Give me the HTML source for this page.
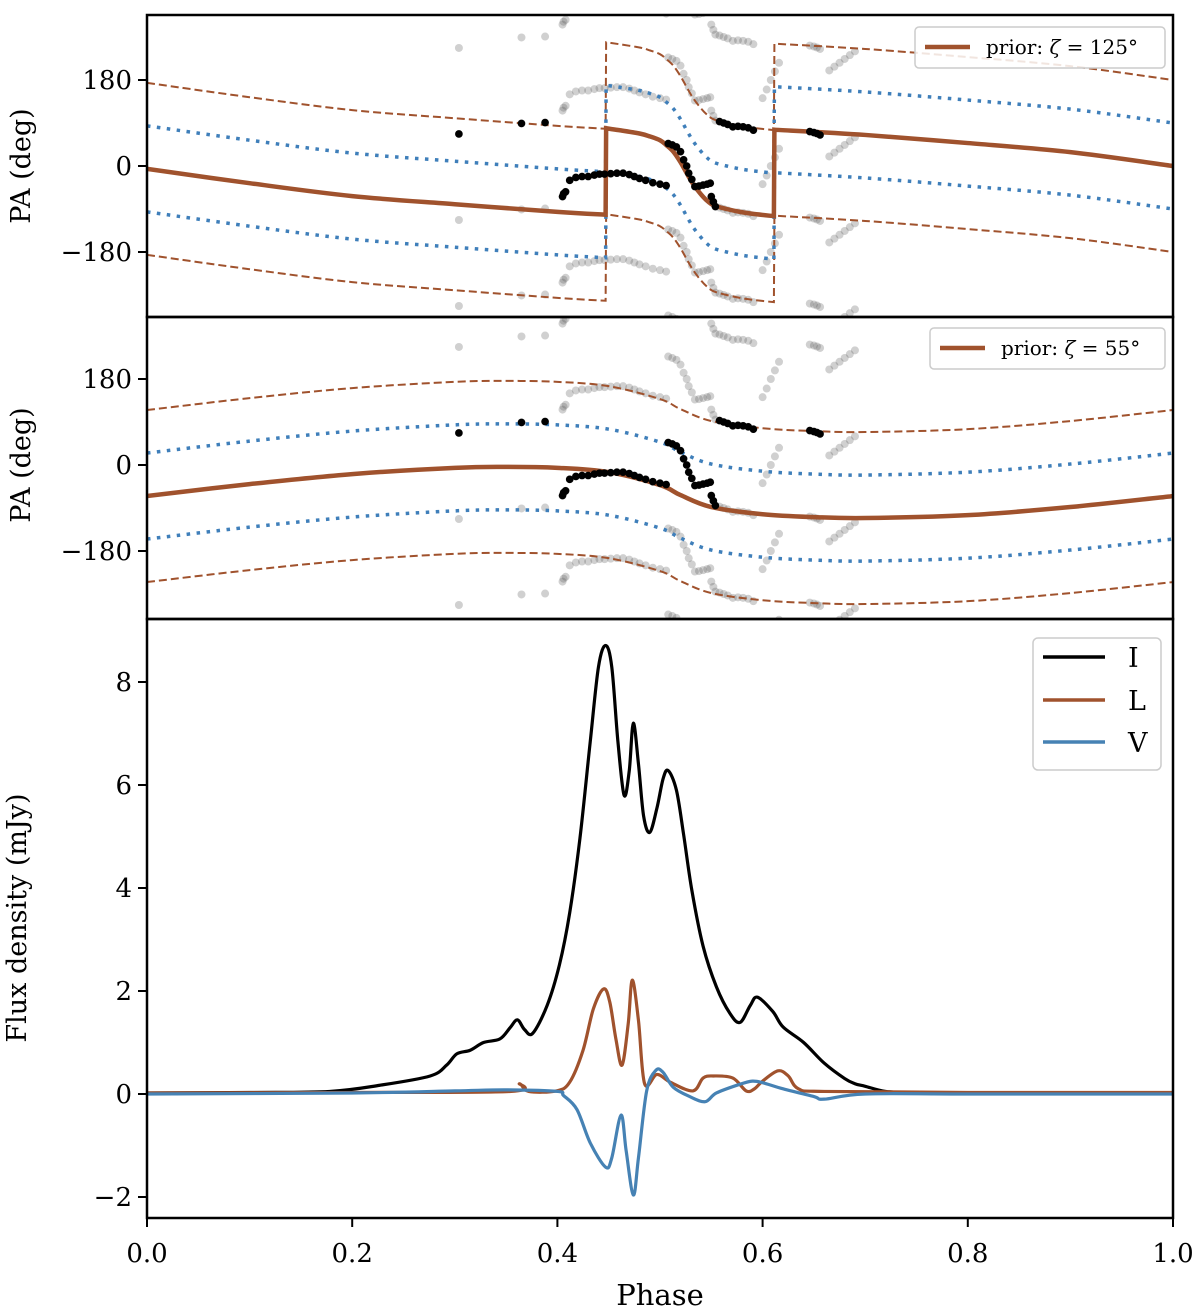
<!DOCTYPE html>
<html><head><meta charset="utf-8"><style>
html,body{margin:0;padding:0;background:#fff}
svg{display:block;font-family:"DejaVu Serif","Liberation Serif",serif}
</style></head><body>
<svg id="chart" width="1200" height="1313" viewBox="0 0 1200 1313" xmlns="http://www.w3.org/2000/svg">
<defs>
<clipPath id="c1"><rect x="147" y="15" width="1026" height="302"/></clipPath>
<clipPath id="c2"><rect x="147" y="317" width="1026" height="302"/></clipPath>
<clipPath id="c3"><rect x="147" y="619" width="1026" height="599"/></clipPath>
</defs>
<g id="g1" clip-path="url(#c1)"></g>
<g id="g2" clip-path="url(#c2)"></g>
<g id="g3" clip-path="url(#c3)"></g>
<g id="axes"></g>
<text x="30" y="166" font-size="27" text-anchor="middle" transform="rotate(-90 30 166)">PA (deg)</text>
<text x="30" y="465" font-size="27" text-anchor="middle" transform="rotate(-90 30 465)">PA (deg)</text>
<text x="26" y="918" font-size="27" text-anchor="middle" transform="rotate(-90 26 918)">Flux density (mJy)</text>
<text x="660" y="1305" font-size="29" text-anchor="middle">Phase</text>
<g>
<rect x="915" y="27" width="250" height="41" rx="4" fill="#fff" fill-opacity="0.85" stroke="#ccc" stroke-width="1.5"/>
<line x1="925" y1="47" x2="970" y2="47" stroke="#a0522d" stroke-width="4.5"/>
<text x="986" y="54" font-size="20">prior: <tspan font-style="italic">ζ</tspan> = 125°</text>
</g>
<g>
<rect x="930" y="328" width="235" height="41" rx="4" fill="#fff" fill-opacity="0.85" stroke="#ccc" stroke-width="1.5"/>
<line x1="940" y1="348" x2="985" y2="348" stroke="#a0522d" stroke-width="4.5"/>
<text x="1001" y="355" font-size="20">prior: <tspan font-style="italic">ζ</tspan> = 55°</text>
</g>
<g>
<rect x="1033" y="638" width="128" height="132" rx="5" fill="#fff" fill-opacity="0.85" stroke="#ccc" stroke-width="1.5"/>
<line x1="1043" y1="657" x2="1105" y2="657" stroke="#000" stroke-width="3.5"/>
<text x="1128" y="667" font-size="27">I</text>
<line x1="1043" y1="700" x2="1105" y2="700" stroke="#a0522d" stroke-width="3.5"/>
<text x="1128" y="710" font-size="27">L</text>
<line x1="1043" y1="742" x2="1105" y2="742" stroke="#4682b4" stroke-width="3.5"/>
<text x="1128" y="752" font-size="27">V</text>
</g>
</svg>
<script>
// ---- data ----
const rvm1Phase=[0,0.1,0.2,0.3,0.4,0.447,0.4475,0.46,0.48,0.49,0.5,0.506,0.513,0.52,0.526,0.532,0.539,0.545,0.552,0.565,0.578,0.59,0.611,0.6115,0.7,0.8,0.9,1.0];
const rvm1PA=[-6,-36,-63,-80,-96,-102,79,75,68,62,54,44,30,8,-15,-37,-57,-71,-82,-90,-96,-100,-105,76,65,48,29,0];
const rvm2Phase=[0,0.1,0.2,0.3,0.35,0.4,0.45,0.5,0.52,0.55,0.6,0.65,0.7,0.8,0.9,1.0];
const rvm2PA=[-65,-40,-19,-6,-4,-6,-15,-42,-63,-88,-103,-109,-111,-105,-88,-65];
const paPhase=[0.304,0.365,0.388,0.405,0.406,0.408,0.412,0.418,0.424,0.430,0.436,0.441,0.446,0.452,0.458,0.464,0.470,0.475,0.480,0.486,0.493,0.500,0.506,0.508,0.512,0.516,0.520,0.523,0.526,0.528,0.531,0.534,0.538,0.542,0.546,0.549,0.550,0.552,0.554,0.558,0.562,0.566,0.571,0.576,0.581,0.586,0.591,0.646,0.650,0.653,0.656];
const paValue=[67,89,91,-64,-58,-54,-30,-24,-22,-22,-19,-17,-17,-16,-15,-15,-18,-22,-26,-30,-35,-38,-41,47,44,40,30,13,0,-15,-28,-43,-42,-40,-38,-36,-64,-75,-85,93,90,87,82,83,82,80,75,72,70,68,65];
const grayPhase=[0.600,0.604,0.608,0.612,0.616,0.665,0.670,0.675,0.680,0.685,0.690];
const grayValue=[-38,-20,0,18,36,20,28,36,44,52,60];
const profPhaseI=[0,0.1,0.178,0.227,0.276,0.292,0.302,0.315,0.328,0.344,0.354,0.361,0.368,0.376,0.390,0.402,0.412,0.422,0.432,0.440,0.447,0.453,0.459,0.465,0.470,0.474,0.479,0.484,0.490,0.497,0.503,0.508,0.516,0.523,0.531,0.542,0.555,0.568,0.578,0.588,0.595,0.61,0.62,0.64,0.66,0.68,0.69,0.70,0.72,0.75,0.8,0.9,1.0];
const profI=[0.02,0.03,0.05,0.17,0.35,0.56,0.78,0.85,1.0,1.07,1.29,1.44,1.25,1.18,1.72,2.51,3.52,4.97,6.84,8.29,8.71,8.29,6.84,5.80,6.27,7.2,6.41,5.40,5.08,5.55,6.12,6.28,5.90,5.04,3.96,2.87,2.08,1.57,1.39,1.72,1.88,1.6,1.3,1.0,0.6,0.3,0.2,0.15,0.05,0.02,0.01,0.02,0.02];
const profPhaseL=[0,0.2,0.355,0.363,0.372,0.399,0.412,0.425,0.435,0.445,0.451,0.457,0.463,0.469,0.473,0.479,0.485,0.497,0.510,0.532,0.542,0.552,0.571,0.584,0.592,0.60,0.615,0.625,0.635,0.66,0.8,1.0];
const profL=[0.02,0.03,0.05,0.2,0.05,0.06,0.23,0.85,1.65,2.04,1.79,1.07,0.56,1.36,2.21,1.43,0.2,0.38,0.23,0.06,0.31,0.35,0.31,0.06,0.1,0.25,0.45,0.35,0.1,0.05,0.03,0.03];
const profPhaseV=[0,0.2,0.3,0.35,0.4,0.406,0.419,0.432,0.447,0.453,0.462,0.467,0.474,0.479,0.487,0.496,0.503,0.513,0.529,0.544,0.555,0.578,0.59,0.60,0.62,0.65,0.66,0.7,0.8,1.0];
const profV=[0,0.02,0.06,0.08,0.05,-0.03,-0.30,-0.95,-1.42,-1.24,-0.41,-1.10,-1.96,-1.24,0.06,0.46,0.42,0.13,-0.05,-0.15,0.02,0.19,0.25,0.22,0.1,-0.05,-0.1,0.0,0.0,0.0];
const paTicks=[180,0,-180];
const fluxTicks=[-2,0,2,4,6,8];
const phaseTicks=[0,0.2,0.4,0.6,0.8,1.0];
const phaseTickLabels=["0.0","0.2","0.4","0.6","0.8","1.0"];

// ---- axes functions ----
const X0=147,X1=1173;
const xs=p=>X0+p*(X1-X0);
const ys1=v=>166-v*0.4778;
const ys2=v=>465-v*0.4778;
const ys3=v=>1094-v*51.5;
const NS="http://www.w3.org/2000/svg";
function mk(tag,attrs,parent){const e=document.createElementNS(NS,tag);for(const k in attrs)e.setAttribute(k,attrs[k]);parent.appendChild(e);return e;}
// smooth path (Catmull-Rom rendering), broken into segments at wraps (jumps > 90 data units)
function pathD(ph,vals,ys,off,jump){
  const pts=ph.map((p,i)=>[xs(p),ys(vals[i]+off),vals[i]]);
  const segs=[];let cur=[pts[0]];
  for(let i=1;i<pts.length;i++){
    if(jump&&Math.abs(pts[i][2]-pts[i-1][2])>jump){segs.push(cur);cur=[pts[i]];}
    else cur.push(pts[i]);
  }
  segs.push(cur);
  let d='';
  segs.forEach((s,si)=>{
    d+=(si?'L':'M')+s[0][0].toFixed(2)+','+s[0][1].toFixed(2);
    for(let i=0;i<s.length-1;i++){
      const p0=s[Math.max(0,i-1)],p1=s[i],p2=s[i+1],p3=s[Math.min(s.length-1,i+2)];
      const t=0.5/3;
      const c1x=p1[0]+(p2[0]-p0[0])*t,c1y=p1[1]+(p2[1]-p0[1])*t;
      const c2x=p2[0]-(p3[0]-p1[0])*t,c2y=p2[1]-(p3[1]-p1[1])*t;
      d+='C'+c1x.toFixed(2)+','+c1y.toFixed(2)+' '+c2x.toFixed(2)+','+c2y.toFixed(2)+' '+p2[0].toFixed(2)+','+p2[1].toFixed(2);
    }
  });
  return d;
}

function drawPA(g,ys,rvmPh,rvmVals){
  for(const off of [-360,-180,0,180,360]){
    paPhase.forEach((p,i)=>{
      const c=mk('circle',{cx:xs(p),cy:ys(paValue[i]+off),r:4,fill:'#555','fill-opacity':0.28},g);
      
      
    });
    grayPhase.forEach((p,i)=>{
      const c=mk('circle',{cx:xs(p),cy:ys(grayValue[i]+off),r:4,fill:'#555','fill-opacity':0.28},g);
      
      
    });
  }
  for(const off of [180,-180]){
    const e=mk('path',{d:pathD(rvmPh,rvmVals,ys,off,90),fill:'none',stroke:'#a0522d','stroke-width':2,'stroke-dasharray':'8,4'},g);
    
    
  }
  for(const off of [90,-90]){
    const e=mk('path',{d:pathD(rvmPh,rvmVals,ys,off,90),fill:'none',stroke:'#3f7fba','stroke-width':3.5,'stroke-dasharray':'3.5,6.5'},g);
    
    
  }
  const s=mk('path',{d:pathD(rvmPh,rvmVals,ys,0,90),fill:'none',stroke:'#a0522d','stroke-width':4.5},g);
  
  
  paPhase.forEach((p,i)=>{
    const c=mk('circle',{cx:xs(p),cy:ys(paValue[i]),r:3.8,fill:'#000'},g);
    
    
  });
}
drawPA(document.getElementById('g1'),ys1,rvm1Phase,rvm1PA);
drawPA(document.getElementById('g2'),ys2,rvm2Phase,rvm2PA);

const g3=document.getElementById('g3');
[[profPhaseI,profI,'#000','stokes-i-line'],[profPhaseL,profL,'#a0522d','linear-pol-line'],[profPhaseV,profV,'#4682b4','circular-pol-line']].forEach(([ph,v,col,nm])=>{
  const e=mk('path',{d:pathD(ph,v,ys3,0,0),fill:'none',stroke:col,'stroke-width':3.2,'stroke-linejoin':'round'},g3);
  
  
});

const ax=document.getElementById('axes');
[[15,317],[317,619],[619,1218]].forEach(([t,b])=>{
  const r=mk('rect',{x:X0,y:t,width:X1-X0,height:b-t,fill:'none',stroke:'#000','stroke-width':2.5},ax);
  
  
});
function yTick(y,label){
  const l=mk('line',{x1:X0-9,y1:y,x2:X0,y2:y,stroke:'#000','stroke-width':2},ax);
  
  
  const t=mk('text',{x:X0-15,y:y+9,'font-size':26,'text-anchor':'end'},ax);
  t.textContent=label;
  
  
}
const fmt=v=>v<0?'\u2212'+Math.abs(v):String(v);
paTicks.forEach(v=>yTick(ys1(v),fmt(v)));
paTicks.forEach(v=>yTick(ys2(v),fmt(v)));
fluxTicks.forEach(v=>yTick(ys3(v),fmt(v)));
phaseTicks.forEach((p,i)=>{
  const l=mk('line',{x1:xs(p),y1:1218,x2:xs(p),y2:1227,stroke:'#000','stroke-width':2},ax);
  
  
  const t=mk('text',{x:xs(p),y:1262,'font-size':26,'text-anchor':'middle'},ax);
  t.textContent=phaseTickLabels[i];
  
  
});
</script>
</body></html>
